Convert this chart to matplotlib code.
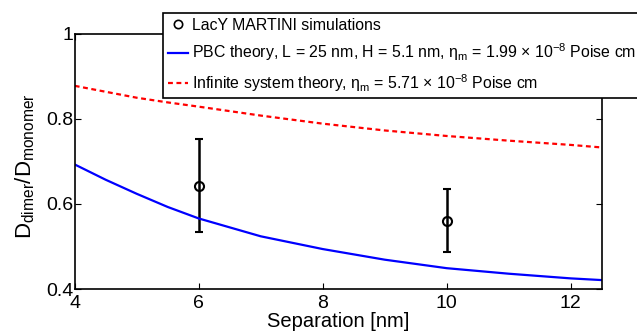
import matplotlib
matplotlib.use("Agg")
import matplotlib.pyplot as plt
from matplotlib.lines import Line2D

plt.rcParams["font.family"] = ["Liberation Sans", "DejaVu Sans"]
plt.rcParams["mathtext.fontset"] = "custom"
plt.rcParams["mathtext.rm"] = "Liberation Sans"
plt.rcParams["mathtext.it"] = "Liberation Sans:italic"
plt.rcParams["mathtext.bf"] = "Liberation Sans:bold"

# simulation points
sim_sep = [6, 10]
sim_ratio = [0.643, 0.561]
sim_err_low = [0.109, 0.074]
sim_err_high = [0.110, 0.074]

# PBC theory curve
pbc_sep = [4, 4.5, 5, 5.5, 6, 7, 8, 9, 10, 11, 12, 12.5]
pbc_ratio = [0.693, 0.657, 0.624, 0.593, 0.566, 0.524, 0.494, 0.469, 0.449, 0.436, 0.425, 0.421]

# infinite system theory curve
inf_sep = [4, 4.5, 5, 5.5, 6, 7, 8, 9, 10, 11, 12, 12.5]
inf_ratio = [0.878, 0.864, 0.850, 0.839, 0.829, 0.808, 0.789, 0.773, 0.760, 0.749, 0.739, 0.733]

fig = plt.figure(figsize=(6.37, 3.33), dpi=100)
ax = fig.add_axes([0.1173, 0.1321, 0.8273, 0.7659])

ax.errorbar(sim_sep, sim_ratio, yerr=[sim_err_low, sim_err_high], fmt="o",
            color="black", mfc="none", ms=6.5, mew=1.5, elinewidth=1.8,
            capsize=3, capthick=1.8)
h_pbc, = ax.plot(pbc_sep, pbc_ratio, color="blue", lw=1.6)
h_inf, = ax.plot(inf_sep, inf_ratio, color="red", lw=1.6, ls=(0, (2.2, 1.6)))

ax.set_xlim(4, 12.5)
ax.set_ylim(0.4, 1)
ax.set_xticks([4, 6, 8, 10, 12])
ax.set_yticks([0.4, 0.6, 0.8, 1])
ax.set_yticklabels(["0.4", "0.6", "0.8", "1"])
ax.tick_params(direction="in", top=True, right=True, length=4, width=0.8,
               labelsize=14)
ax.tick_params(axis="x", pad=4)
ax.tick_params(axis="y", pad=1)
for s in ax.spines.values():
    s.set_linewidth(1.2)

ax.set_xlabel("Separation [nm]", fontsize=14.5)
ax.xaxis.set_label_coords(0.5, -0.092)
ax.set_ylabel(r"D$_\mathrm{dimer}$/D$_\mathrm{monomer}$", fontsize=16)
ax.yaxis.set_label_coords(-0.072, 0.48)

labels = [
    "LacY MARTINI simulations",
    r"PBC theory, L = 25 nm, H = 5.1 nm, η$_\mathrm{m}$ = 1.99 $\times$ 10$^{-8}$ Poise cm",
    r"Infinite system theory, η$_\mathrm{m}$ = 5.71 $\times$ 10$^{-8}$ Poise cm",
]
h_marker = Line2D([], [], ls="none", marker="o", mfc="none", mec="black", ms=6, mew=1.2)
leg = fig.legend([h_marker, h_pbc, h_inf], labels, loc="upper left",
                 bbox_to_anchor=(163 / 637, 1 - 13 / 333), fontsize=11.4,
                 frameon=True, fancybox=False, edgecolor="black", framealpha=1,
                 handlelength=1.3, handletextpad=0.25, borderpad=0.3,
                 labelspacing=0.55, borderaxespad=0)
leg.get_frame().set_linewidth(1.2)

fig.savefig("out.png", dpi=100)
